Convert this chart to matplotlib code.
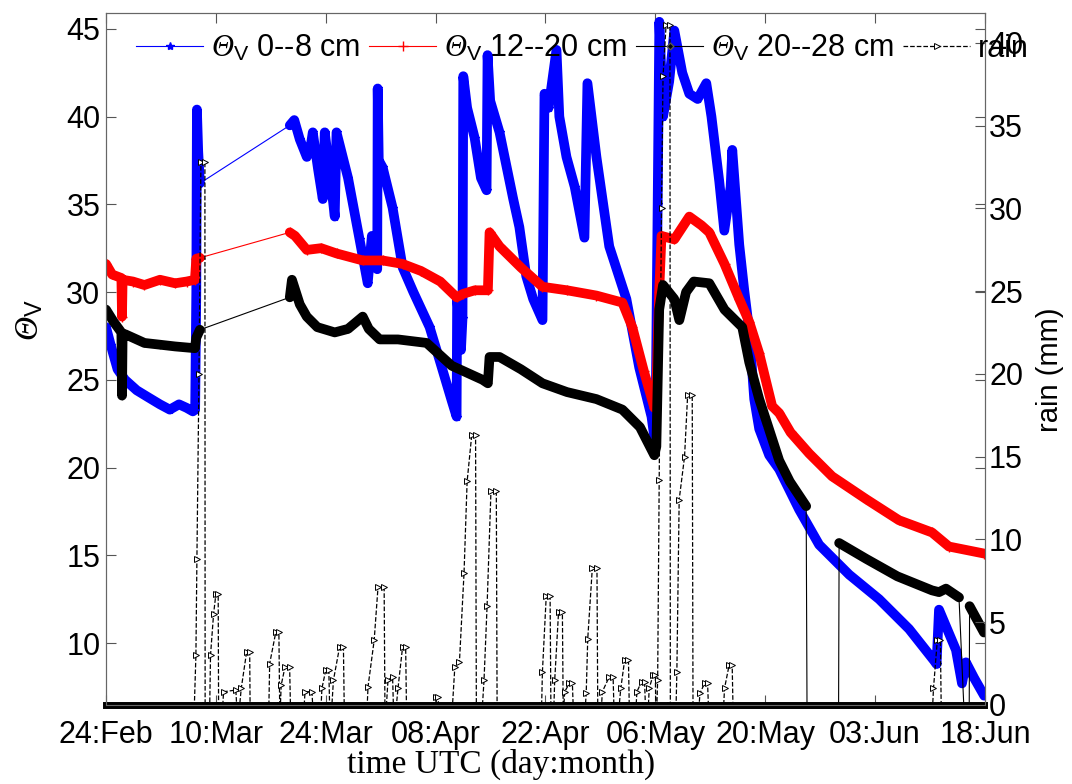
import numpy as np
import matplotlib.pyplot as plt

plt.rcParams['font.family'] = ['Liberation Sans', 'DejaVu Sans']
plt.rcParams['mathtext.fontset'] = 'custom'
plt.rcParams['mathtext.rm'] = 'Liberation Serif:italic'
plt.rcParams['mathtext.it'] = 'Liberation Serif:italic'
plt.rcParams['mathtext.sf'] = 'Liberation Sans'

# x = days after 24 Feb (UTC)
tick_labels = ["24:Feb", "10:Mar", "24:Mar", "08:Apr", "22:Apr",
               "06:May", "20:May", "03:Jun", "18:Jun"]
x_end = 114.4

# soil moisture 0--8 cm
blue_day = [0.0, 0.6, 1.5, 2.47, 4.0, 5.5, 7.02, 8.3, 9.5, 10.5, 11.3, 11.6, 11.75, 11.83,
            12.0, 12.22, 23.92, 24.5, 25.22, 26.13, 26.6, 26.91, 27.6, 28.21, 28.47, 29.2,
            29.77, 30.0, 31.5, 33.0, 34.06, 34.6, 35.3, 35.36, 35.5, 36.01, 37.3, 38.61,
            40.0, 42.12, 43.5, 45.0, 45.63, 45.7, 46.0, 46.2, 46.4, 46.5, 47.0, 47.97, 48.8,
            49.53, 49.66, 50.0, 51.22, 53.0, 53.8, 54.7, 55.6, 56.81, 57.07, 57.6, 58.63,
            59.0, 59.93, 61.0, 62.27, 62.66, 63.83, 65.5, 67.73, 69.4, 71.0, 71.5, 71.8,
            72.02, 72.5, 73.3, 73.97, 75.0, 75.92, 77.0, 78.13, 78.8, 79.82, 80.47, 81.3,
            81.51, 82.03, 82.42, 83.07, 83.72, 84.37, 85.02, 86.32, 87.62, 90.22, 92.82,
            96.72, 100.62, 104.52, 107.77, 108.1, 108.42, 110.63, 111.41, 111.93, 113.0, 114.3]
blue_val = [28.0, 27.0, 25.6, 25.0, 24.4, 24.0, 23.6, 23.3, 23.6, 23.4, 23.2, 23.3, 30.0, 40.4,
            38.0, 36.2, 39.5, 39.8, 38.7, 37.7, 38.2, 39.1, 37.0, 35.3, 39.1, 36.5,
            34.3, 39.1, 36.5, 33.0, 30.5, 33.2, 31.3, 41.6, 37.5, 37.1, 34.8, 31.4,
            30.0, 28.0, 26.0, 23.8, 22.9, 29.7, 28.0, 26.7, 28.5, 42.3, 40.5, 38.8, 36.5,
            35.8, 43.5, 40.9, 39.1, 35.3, 33.7, 30.9, 29.6, 28.4, 41.3, 40.5, 43.8,
            40.0, 37.7, 36.0, 33.1, 41.9, 37.7, 32.6, 29.6, 25.7, 22.9, 21.3, 35.0,
            45.4, 40.0, 42.0, 44.9, 42.5, 41.3, 41.0, 41.9, 40.0, 36.3, 33.5, 36.0,
            38.1, 35.0, 32.7, 30.1, 27.8, 23.9, 22.2, 20.7, 19.9, 17.6, 15.6,
            13.9, 12.5, 10.8, 9.0, 8.8, 11.9, 9.6, 7.7, 8.9, 8.0, 7.0]

# soil moisture 12--20 cm
red_day = [0.0, 0.8, 2.0, 2.08, 2.16, 3.5, 5.0, 7.02, 9.0, 10.5, 11.57, 11.75, 12.22,
           23.92, 24.6, 26.13, 28.0, 30.0, 33.41, 36.0, 38.61, 41.0, 43.5, 45.63, 46.5,
           48.0, 49.7, 49.92, 51.22, 54.0, 56.81, 60.0, 63.83, 67.21, 68.5, 70.0, 71.37,
           71.6, 72.0, 72.3, 73.97, 75.92, 77.5, 78.52, 80.5, 82.42, 83.72, 85.02, 86.7,
           87.62, 89.1, 91.52, 94.5, 98.93, 103.2, 107.51, 109.7, 114.27]
red_val = [31.6, 31.0, 30.8, 28.6, 30.7, 30.6, 30.4, 30.7, 30.5, 30.6, 30.7, 31.9, 31.95,
           33.4, 33.2, 32.4, 32.5, 32.2, 31.8, 31.8, 31.6, 31.2, 30.6, 29.7, 29.9,
           30.1, 30.1, 33.4, 32.6, 31.4, 30.3, 30.1, 29.8, 29.4, 28.0, 25.5, 23.4,
           24.0, 30.0, 33.2, 33.0, 34.3, 33.8, 33.4, 31.6, 29.6, 28.3, 26.5, 23.5,
           23.1, 22.0, 20.8, 19.5, 18.2, 17.0, 16.3, 15.5, 15.1]

# soil moisture 20--28 cm
black_day = [0.0, 1.0, 2.0, 2.08, 2.16, 2.47, 5.0, 7.02, 9.0, 11.57, 11.75, 12.22,
             23.92, 24.2, 25.22, 26.13, 27.5, 29.77, 31.5, 33.41, 34.2, 35.62, 38.0, 41.73,
             45.0, 49.01, 49.7, 49.92, 51.22, 54.0, 56.81, 60.0, 63.83, 67.21, 69.5, 71.37,
             71.63, 72.0, 72.5, 73.97, 74.62, 75.5, 76.5, 78.52, 80.5, 82.81, 83.72, 85.02,
             87.62, 89.0, 91.13, 91.3, 95.3, 95.42, 98.93, 103.0, 107.51, 108.42, 109.33,
             111.02, 112.3, 112.4, 114.27]
black_val = [29.0, 28.3, 27.7, 24.1, 27.6, 27.6, 27.1, 27.0, 26.9, 26.8, 27.4, 27.85,
             29.7, 30.7, 29.3, 28.6, 28.0, 27.7, 27.9, 28.6, 27.9, 27.3, 27.3, 27.1,
             25.8, 25.0, 24.8, 26.3, 26.3, 25.6, 24.8, 24.3, 23.9, 23.3, 22.3, 20.7,
             21.2, 29.0, 30.4, 29.6, 28.4, 30.0, 30.6, 30.5, 29.0, 28.0, 26.0, 23.9,
             20.4, 19.2, 17.8, 0.0, 0.0, 15.7, 14.8, 13.8, 13.0, 12.9, 13.1,
             12.6, 0.0, 12.1, 10.6]

# accumulated rain per event (mm)
rain_day = [0.0, 11.5, 11.7, 11.83, 12.1, 12.35, 12.87, 12.9,
            13.5, 13.6, 14.0, 14.3, 14.6, 14.65,
            15.2, 15.3, 16.9, 17.0,
            17.4, 17.6, 18.3, 18.7, 18.75,
            21.2, 21.3, 22.1, 22.5, 22.6,
            22.7, 22.8, 23.3, 23.9, 24.0,
            25.8, 25.9, 26.8, 26.9,
            28.0, 28.1, 28.6, 29.0, 29.1,
            29.4, 29.6, 30.4, 30.9, 31.0,
            34.0, 34.1, 34.9, 35.4, 36.2, 36.3,
            36.5, 36.7, 37.3, 37.4,
            37.8, 38.0, 38.6, 39.0, 39.1,
            42.9, 43.0, 43.2, 43.3,
            45.1, 45.4, 46.0, 46.6, 47.0, 47.6, 48.1, 48.2,
            49.0, 49.2, 49.6, 50.1, 50.8, 50.9,
            56.7, 56.8, 57.3, 57.8, 57.9,
            58.3, 58.4, 58.9, 59.4, 59.5,
            59.6, 59.7, 60.3, 60.7, 60.8,
            62.4, 62.5, 62.7, 63.3, 63.9, 64.0,
            64.5, 64.6, 65.5, 66.0, 66.1,
            66.8, 67.0, 67.5, 68.0, 68.1,
            69.0, 69.1, 69.7, 70.1, 70.2,
            70.6, 70.7, 71.2, 71.5, 71.55,
            71.7, 71.8, 72.0, 72.3, 72.5, 72.9, 73.4, 73.45,
            74.2, 74.3, 74.6, 75.3, 75.7, 76.3, 76.4,
            77.2, 77.3, 77.9, 78.3, 78.4,
            80.4, 80.5, 81.1, 81.5, 81.6,
            107.6, 107.7, 108.2, 108.6, 108.7, 114.3]
rain_mm = [0, 0, 3.0, 8.8, 20.0, 32.8, 32.8, 0,
           0, 3.0, 5.5, 6.7, 6.7, 0,
           0, 0.8, 0.9, 0,
           0, 1.0, 3.2, 3.2, 0,
           0, 2.5, 4.4, 4.4, 0,
           0, 1.2, 2.3, 2.3, 0,
           0, 0.8, 0.8, 0,
           0, 1.0, 2.1, 2.1, 0,
           0, 1.5, 3.5, 3.5, 0,
           0, 1.1, 3.9, 7.1, 7.1, 0,
           0, 1.5, 1.7, 0,
           0, 1.0, 3.5, 3.5, 0,
           0, 0.5, 0.5, 0,
           0, 2.3, 2.6, 8.0, 13.5, 16.3, 16.3, 0,
           0, 1.5, 6.0, 12.9, 12.9, 0,
           0, 2.0, 6.6, 6.6, 0,
           0, 1.5, 5.6, 5.6, 0,
           0, 0.8, 1.3, 1.3, 0,
           0, 0.7, 4.0, 8.3, 8.3, 0,
           0, 0.8, 1.7, 1.7, 0,
           0, 1.0, 2.7, 2.7, 0,
           0, 0.8, 1.4, 1.4, 0,
           0, 1.0, 1.8, 1.8, 0,
           0, 1.5, 13.6, 30.0, 38.0, 41.1, 41.1, 0,
           0, 2.0, 12.4, 15.0, 18.7, 18.7, 0,
           0, 0.7, 1.3, 1.3, 0,
           0, 1.0, 2.4, 2.4, 0,
           0, 1.0, 3.9, 3.9, 0, 0]


def dense_part(d, v, gap=8.0, floor=6.6):
    # thick band only where logging was continuous
    d = np.asarray(d, float)
    v = np.asarray(v, float).copy()
    v[v < floor] = np.nan
    brk = np.where(np.diff(d) > gap)[0] + 1
    return np.insert(d, brk, np.nan), np.insert(v, brk, np.nan)


fig = plt.figure(figsize=(10.72, 7.84), dpi=100)
ax1 = fig.add_axes([0.0989, 0.1008, 0.8199, 0.8826])
ax2 = ax1.twinx()

styles = [(blue_day, blue_val, '#0000ff', '*', 6),
          (red_day, red_val, '#ff0000', '+', 7),
          (black_day, black_val, 'black', 'D', 3.5)]
handles = []
for d, v, c, m, ms in styles:
    h, = ax1.plot(d, v, color=c, lw=0.8, marker=m, ms=ms,
                  mec=c if m != 'D' else '#555555', mfc=c)
    dd, vv = dense_part(d, v)
    ax1.plot(dd, vv, color=c, lw=7, solid_capstyle='round')
    handles.append(h)

h_rain, = ax2.plot(rain_day, rain_mm, color='black', ls='--', lw=0.9,
                   marker='>', ms=5, mfc='white', mec='black', mew=0.7)
ax2.plot(rain_day, np.zeros(len(rain_day)), color='black', lw=5, clip_on=False)

ax1.set_xlim(0, x_end)
ax1.set_ylim(6.47, 45.9)
ax2.set_ylim(0, 41.8)
ax1.set_xticks(np.linspace(0, x_end, len(tick_labels)))
ax1.set_xticklabels(tick_labels)
ax1.set_yticks(range(10, 50, 5))
ax2.set_yticks(range(0, 45, 5))

for ax in (ax1, ax2):
    ax.tick_params(direction='in', length=7, width=0.8, labelsize=22, color='#555555')
    for s in ax.spines.values():
        s.set_color('#666666')
ax1.tick_params(top=True, right=True)
ax1.tick_params(axis='x', pad=11)
ax1.tick_params(axis='y', pad=4)
ax2.tick_params(axis='y', pad=3)

ax1.set_xlabel('time UTC (day:month)', family='Liberation Serif', fontsize=24)
ax1.xaxis.set_label_coords(0.449, -0.063)
ax1.set_ylabel(r'$\Theta_\mathsf{V}$', fontsize=24)
ax1.yaxis.set_label_coords(-0.069, 0.556)
ax2.set_ylabel('rain (mm)', fontsize=21)
ax2.yaxis.set_label_coords(1.058, 0.484)

labels = [r'$\Theta_\mathsf{V}$ 0--8 cm', r'$\Theta_\mathsf{V}$ 12--20 cm',
          r'$\Theta_\mathsf{V}$ 20--28 cm', 'rain']
ax2.legend(handles + [h_rain], labels, loc='center', bbox_to_anchor=(0.542, 0.949),
           ncol=4, frameon=False, fontsize=22, handlelength=2.2, handletextpad=0.25,
           columnspacing=0.3, borderaxespad=0)

fig.savefig('out.png', dpi=100)
